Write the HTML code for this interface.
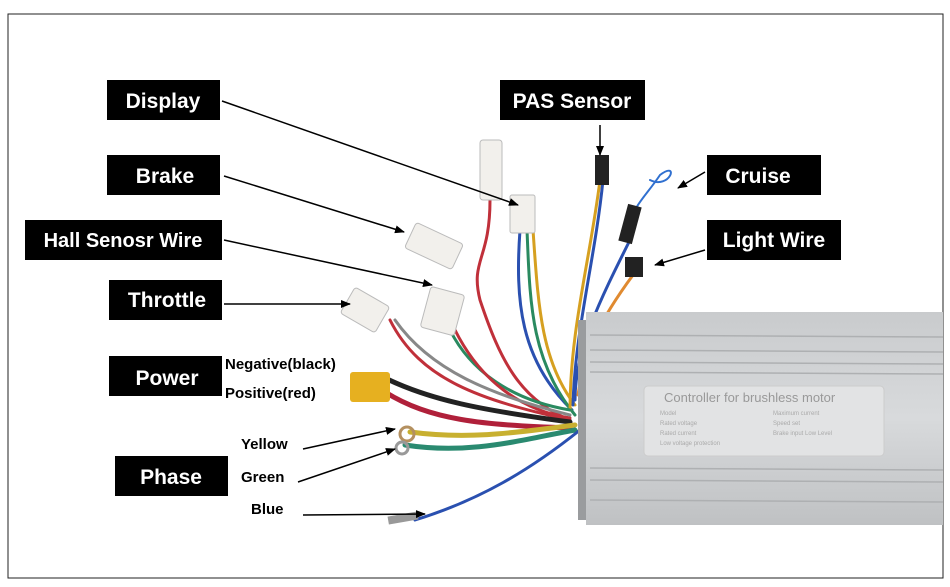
<!DOCTYPE html>
<html><head><style>
body{margin:0;background:#fff}
svg{display:block}
text{font-family:"Liberation Sans",Arial,sans-serif}
</style></head><body>
<svg width="950" height="587" viewBox="0 0 950 587" xmlns="http://www.w3.org/2000/svg">
<defs>
<marker id="a" markerWidth="10" markerHeight="8" refX="9" refY="4" orient="auto" markerUnits="userSpaceOnUse"><path d="M0,0 L10,4 L0,8 z" fill="#000"/></marker>
<linearGradient id="g" x1="0" y1="0" x2="0" y2="1"><stop offset="0" stop-color="#c9cbcd"/><stop offset="0.5" stop-color="#d8dadc"/><stop offset="1" stop-color="#bfc1c3"/></linearGradient>
</defs>
<rect x="8" y="14" width="935" height="564" fill="#fff" stroke="#222" stroke-width="1"/>
<g fill="none" stroke-width="3" stroke-linecap="round">
<path d="M490 200 C490 260 470 260 480 300 C500 360 520 400 570 420" stroke="#c0303a"/>
<path d="M520 230 C515 300 520 360 572 410" stroke="#2a50b0"/>
<path d="M527 230 C530 300 530 360 575 415" stroke="#2a8a60"/>
<path d="M533 230 C538 300 540 360 575 405" stroke="#d6a020"/>
<path d="M600 180 C590 260 570 330 570 410" stroke="#d6a020"/>
<path d="M603 180 C595 260 575 330 573 405" stroke="#2a50b0"/>
<path d="M630 240 C600 300 575 350 575 400" stroke="#2a50b0"/>
<path d="M633 275 C600 320 585 350 578 395" stroke="#e08a30"/>
<path d="M450 330 C470 370 510 400 570 410" stroke="#2a8a60"/>
<path d="M455 330 C480 380 520 410 570 418" stroke="#c0303a"/>
<path d="M390 320 C420 380 480 400 570 420" stroke="#c0303a"/>
<path d="M395 320 C430 370 490 395 570 415" stroke="#888"/>
<path d="M385 378 C430 400 480 410 570 422" stroke="#222" stroke-width="5"/>
<path d="M385 392 C430 420 480 425 570 428" stroke="#b0203a" stroke-width="5"/>
<path d="M410 432 C470 440 520 432 575 425" stroke="#c8b030" stroke-width="5"/>
<path d="M405 445 C470 455 520 440 575 430" stroke="#2a8a70" stroke-width="5"/>
<path d="M415 520 C480 500 530 470 580 430" stroke="#2a50b0" stroke-width="3"/>
<path d="M650 180 C670 190 680 160 660 175 C650 190 640 200 635 210" stroke="#3070d0" stroke-width="2"/>
</g>
<g fill="#f2f0ec" stroke="#bbb">
<rect x="480" y="140" width="22" height="60" rx="3"/>
<rect x="510" y="195" width="25" height="38" rx="2"/>
<rect x="408" y="232" width="52" height="28" rx="3" transform="rotate(25 434 246)"/>
<rect x="345" y="295" width="40" height="30" rx="3" transform="rotate(30 365 310)"/>
<rect x="425" y="290" width="35" height="42" rx="3" transform="rotate(15 442 311)"/>
</g>
<rect x="350" y="372" width="40" height="30" rx="3" fill="#e6b020"/>
<rect x="595" y="155" width="14" height="30" fill="#222"/>
<rect x="623" y="205" width="14" height="38" fill="#222" transform="rotate(15 630 224)"/>
<rect x="625" y="257" width="18" height="20" fill="#222"/>
<circle cx="407" cy="434" r="7" fill="none" stroke="#b49060" stroke-width="3"/>
<circle cx="402" cy="448" r="6" fill="none" stroke="#999" stroke-width="3"/>
<rect x="388" y="514" width="30" height="8" fill="#999" transform="rotate(-10 403 518)"/>
<rect x="578" y="320" width="12" height="200" fill="#9a9c9e"/>
<rect x="586" y="312" width="357" height="213" fill="url(#g)"/>
<g stroke="#aeb0b2" stroke-width="1.5">
<line x1="590" y1="335" x2="943" y2="337"/><line x1="590" y1="350" x2="943" y2="352"/><line x1="590" y1="362" x2="943" y2="364"/><line x1="590" y1="372" x2="943" y2="374"/><line x1="590" y1="468" x2="943" y2="470"/><line x1="590" y1="480" x2="943" y2="482"/><line x1="590" y1="500" x2="943" y2="502"/>
</g>
<rect x="644" y="386" width="240" height="70" rx="4" fill="#e2e3e4" stroke="#ccc"/>
<text x="664" y="402" font-size="13" fill="#999">Controller for brushless motor</text>
<g font-size="6" fill="#aaa"><text x="660" y="415">Model</text><text x="660" y="425">Rated voltage</text><text x="660" y="435">Rated current</text><text x="660" y="445">Low voltage protection</text><text x="773" y="415">Maximum current</text><text x="773" y="425">Speed set</text><text x="773" y="435">Brake input Low Level</text></g>
<g fill="#000">
<rect x="107" y="80" width="113" height="40"/><rect x="500" y="80" width="145" height="40"/>
<rect x="107" y="155" width="113" height="40"/><rect x="707" y="155" width="114" height="40"/>
<rect x="25" y="220" width="197" height="40"/><rect x="707" y="220" width="134" height="40"/>
<rect x="109" y="280" width="113" height="40"/><rect x="109" y="356" width="113" height="40"/>
<rect x="115" y="456" width="113" height="40"/>
</g>
<g fill="#fff" font-size="21" font-weight="bold" text-anchor="middle">
<text x="163" y="108">Display</text><text x="572" y="108">PAS Sensor</text>
<text x="165" y="183">Brake</text><text x="758" y="183">Cruise</text>
<text x="123" y="247" font-size="20">Hall Senosr Wire</text><text x="774" y="247">Light Wire</text>
<text x="167" y="307">Throttle</text><text x="167" y="385">Power</text>
<text x="171" y="484">Phase</text>
</g>
<g font-size="15" font-weight="bold" fill="#000">
<text x="225" y="369">Negative(black)</text><text x="225" y="398">Positive(red)</text>
<text x="241" y="449">Yellow</text><text x="241" y="482">Green</text><text x="251" y="514">Blue</text>
</g>
<g stroke="#000" stroke-width="1.5" marker-end="url(#a)">
<line x1="222" y1="101" x2="518" y2="205"/>
<line x1="224" y1="176" x2="404" y2="232"/>
<line x1="224" y1="240" x2="432" y2="285"/>
<line x1="224" y1="304" x2="350" y2="304"/>
<line x1="600" y1="125" x2="600" y2="155"/>
<line x1="705" y1="172" x2="678" y2="188"/>
<line x1="705" y1="250" x2="655" y2="265"/>
<line x1="303" y1="449" x2="395" y2="429"/>
<line x1="298" y1="482" x2="395" y2="449"/>
<line x1="303" y1="515" x2="425" y2="514"/>
</g>
</svg>
</body></html>
